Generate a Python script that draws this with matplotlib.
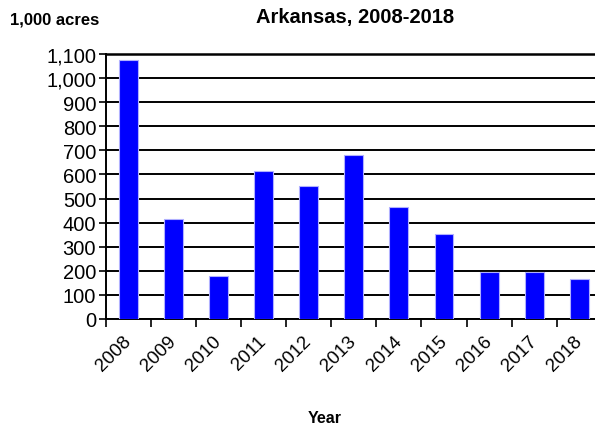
import matplotlib.pyplot as plt
import numpy as np

years = ['2008', '2009', '2010', '2011', '2012', '2013', '2014', '2015', '2016', '2017', '2018']
acres = [1075, 415, 180, 616, 552, 681, 466, 351, 194, 194, 166]

plt.rcParams['font.family'] = ['Liberation Sans', 'DejaVu Sans']

fig = plt.figure(figsize=(5.95, 4.27), dpi=100)
ax = fig.add_axes([0.178, 0.2506, 0.822, 0.6204])

x = np.arange(len(years))
ax.bar(x, acres, width=0.42, color='#0000FF', edgecolor='#B0B0FF', linewidth=0.8, zorder=3)

ax.set_ylim(0, 1100)
ax.set_xlim(-0.5, 10.35)
ax.set_yticks(range(0, 1101, 100))
ax.set_yticklabels(['{:,}'.format(v) for v in range(0, 1101, 100)], fontsize=14.5)
ax.yaxis.grid(True, color='black', linewidth=1.4, zorder=0)

ax.set_xticks(x)
ax.set_xticklabels(years, rotation=45, ha='right', va='center', rotation_mode='anchor', fontsize=13.5)
ax.set_xticks(np.arange(-0.5, 10.4, 1), minor=True)
ax.tick_params(axis='x', which='major', length=0, pad=14)
ax.tick_params(axis='x', which='minor', length=6, width=1.2, direction='out')
ax.tick_params(axis='y', length=5, width=1.2, pad=2)

ax.spines['right'].set_visible(False)
ax.spines['top'].set_linewidth(1.8)
ax.spines['left'].set_linewidth(1.4)
ax.spines['bottom'].set_linewidth(1.4)

fig.text(0.597, 0.96, 'Arkansas, 2008-2018', ha='center', va='center', fontsize=14.5, fontweight='bold')
fig.text(0.017, 0.952, '1,000 acres', ha='left', va='center', fontsize=12, fontweight='bold')
fig.text(0.545, 0.021, 'Year', ha='center', va='center', fontsize=11.5, fontweight='bold')

plt.savefig('out.png', dpi=100)
